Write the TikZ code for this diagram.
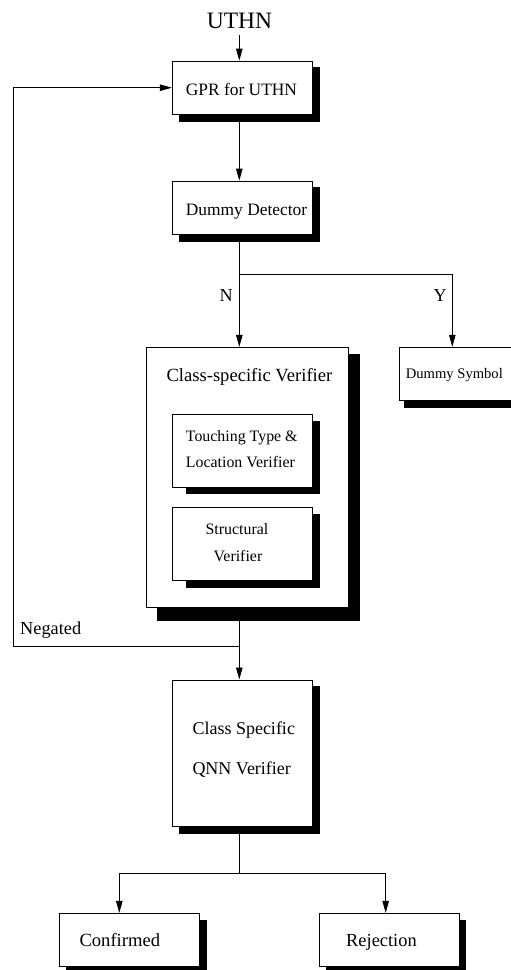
\documentclass[tikz,border=0pt]{standalone}
\usepackage{fontspec}
\setmainfont{Liberation Serif}
\usetikzlibrary{arrows.meta,backgrounds}
\begin{document}
\begin{tikzpicture}[x=1pt,y=-1pt,
  box/.style={draw=black,line width=0.9pt,fill=white,inner sep=0pt},
  txt/.style={inner sep=0pt,anchor=base west},
  ctxt/.style={inner sep=0pt,anchor=base},
  ln/.style={line width=0.9pt},
  arr/.style={line width=0.9pt,-{Triangle[length=12pt,width=6.5pt]}},
  shd/.style={fill=black}]
\useasboundingbox (0,0) rectangle (511,970);
\clip (0,0) rectangle (511,970);

% boxes
\node[box,minimum width=140.4pt,minimum height=53.3pt] (gpr) at (242.5,87.7) {};
\node[box,minimum width=140.4pt,minimum height=53.3pt] (dd) at (242.5,207.7) {};
\node[box,minimum width=202pt,minimum height=259.7pt] (csv) at (247.3,477.2) {};
% shadows of the inner boxes, drawn over the outer box
\fill[shd] (185.7,420.7) rectangle (320,494.3);
\fill[shd] (185.7,514) rectangle (320,587.6);
\node[box,minimum width=140.4pt,minimum height=73pt] (touch) at (242.5,450.5) {};
\node[box,minimum width=140.4pt,minimum height=73pt] (struct) at (242.5,543.8) {};
\node[box,minimum width=141pt,minimum height=53.4pt] (ds) at (469.5,374) {};
\node[box,minimum width=140.4pt,minimum height=146.7pt] (qnn) at (242.5,753.3) {};
\node[box,minimum width=140pt,minimum height=52.7pt] (conf) at (129.3,939.7) {};
\node[box,minimum width=140pt,minimum height=52.7pt] (rej) at (389.3,939.7) {};

% shadows
\begin{scope}[on background layer]
\fill[shd] ([shift={(6.7,6.7)}]gpr.north west) rectangle ([shift={(7.3,7.4)}]gpr.south east);
\fill[shd] ([shift={(6.7,6.7)}]dd.north west) rectangle ([shift={(7.3,7.4)}]dd.south east);
\fill[shd] ([shift={(10.7,6.7)}]csv.north west) rectangle ([shift={(11.7,13.7)}]csv.south east);
\fill[shd] ([shift={(5,7)}]ds.north west) rectangle ([shift={(7,7)}]ds.south east);
\fill[shd] ([shift={(6.7,6.7)}]qnn.north west) rectangle ([shift={(7.3,7)}]qnn.south east);
\fill[shd] ([shift={(6.7,6.7)}]conf.north west) rectangle ([shift={(7.4,7)}]conf.south east);
\fill[shd] ([shift={(6.7,6.7)}]rej.north west) rectangle ([shift={(6.7,7)}]rej.south east);
\end{scope}

% texts
\node[txt,font=\fontsize{23.5}{26}\selectfont] (uthn) at (206.7,28.3) {UTHN};
\node[txt,font=\fontsize{17.4}{20}\selectfont] (tgpr) at (185.7,95.7) {GPR for UTHN};
\node[txt,font=\fontsize{17.4}{20}\selectfont] (tdd) at (185.7,215) {Dummy Detector};
\node[txt,font=\fontsize{18.2}{20}\selectfont] (tn) at (219.3,301) {N};
\node[txt,font=\fontsize{18.2}{20}\selectfont] (ty) at (433.3,301) {Y};
\node[txt,font=\fontsize{18.6}{20}\selectfont] (tcsv) at (166.3,381.7) {Class-specific Verifier};
\node[txt,font=\fontsize{15.9}{18}\selectfont] (ttouch1) at (185.7,441.7) {Touching Type \&};
\node[txt,font=\fontsize{15.9}{18}\selectfont] (ttouch2) at (185.7,467.3) {Location Verifier};
\node[ctxt,font=\fontsize{15.9}{18}\selectfont] (tstruct1) at (237,534.3) {Structural};
\node[ctxt,font=\fontsize{15.9}{18}\selectfont] (tstruct2) at (238,561) {Verifier};
\node[txt,font=\fontsize{14.6}{17}\selectfont] (tds) at (405.7,378.7) {Dummy Symbol};
\node[txt,font=\fontsize{18.3}{20}\selectfont] (tneg) at (20,634) {Negated};
\node[txt,font=\fontsize{18}{20}\selectfont] (tqnn1) at (192.3,734) {Class Specific};
\node[txt,font=\fontsize{18}{20}\selectfont] (tqnn2) at (192.3,774) {QNN Verifier};
\node[txt,font=\fontsize{18.6}{20}\selectfont] (tconf) at (79.3,946.7) {Confirmed};
\node[txt,font=\fontsize{18.4}{20}\selectfont] (trej) at (346,946.7) {Rejection};

% junction coordinates
\coordinate (j1) at (239.3,274.3);
\coordinate (j2) at (452.3,274.3);
\coordinate (fb) at (239.3,646.7);
\coordinate (lt) at (13,646.7);
\coordinate (j3) at (239.3,873.3);
\coordinate (jl) at (119.3,873.3);
\coordinate (jr) at (385.7,873.3);

% connectors
\draw[arr,shorten <=6.7pt] (uthn.south -| j1) -- (j1 |- gpr.north);
\draw[arr] (j1 |- gpr.south) -- (j1 |- dd.north);
\draw[ln] (j1 |- dd.south) -- (j1) -- (j2);
\draw[arr] (j1) -- (j1 |- csv.north);
\draw[arr] (j2) -- (j2 |- ds.north);
\draw[arr] (j1 |- csv.south) -- (j1 |- qnn.north);
\draw[arr] (fb) -- (lt) -- (lt |- gpr.west) -- (gpr.west);
\draw[ln] (j1 |- qnn.south) -- (j3);
\draw[arr] (j3) -- (jl) -- (jl |- conf.north);
\draw[arr] (j3) -- (jr) -- (jr |- rej.north);
\end{tikzpicture}
\end{document}
